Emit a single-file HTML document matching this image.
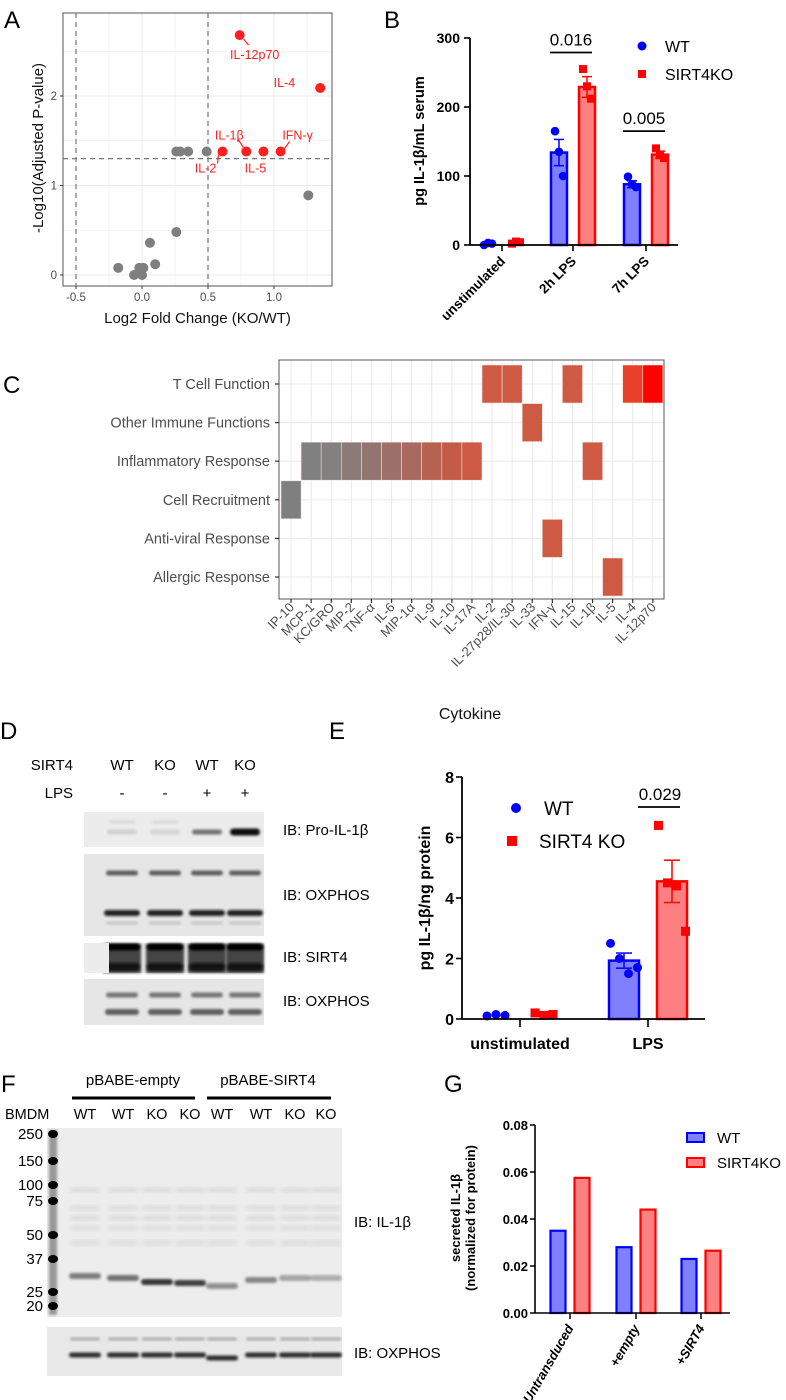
<!DOCTYPE html>
<html><head><meta charset="utf-8"><style>
html,body{margin:0;padding:0;background:#fff}
svg{display:block}
text{font-family:"Liberation Sans",sans-serif}
.nar{font-family:"Liberation Sans Narrow","Liberation Sans",sans-serif}
</style></head><body>
<svg id="fig" width="786" height="1400" viewBox="0 0 786 1400" xmlns="http://www.w3.org/2000/svg">
<defs>
<filter id="blur1" x="-20%" y="-50%" width="140%" height="200%"><feGaussianBlur stdDeviation="1.3"/></filter>
<filter id="blur2" x="-20%" y="-50%" width="140%" height="200%"><feGaussianBlur stdDeviation="2.5"/></filter>
</defs>
<g id="pA"></g>
<g id="pB"></g>
<g id="pC"></g>
<g id="pD"></g>
<g id="pE"></g>
<g id="pF"></g>
<g id="pG"></g>
</svg>
<script>
// ---------- Panel A data ----------
const aGreyX = [0.26,0.29,0.35,0.49,1.26,0.26,0.06,0.10,-0.18,-0.02,0.01,-0.06,0.0];
const aGreyY = [1.38,1.38,1.38,1.38,0.89,0.48,0.36,0.12,0.08,0.08,0.08,0.0,0.0];
const aRedNames = ["IL-12p70","IL-4","IL-2","IL-1β","IL-5","IFN-γ"];
const aRedX = [0.74,1.35,0.61,0.79,0.92,1.05];
const aRedY = [2.68,2.09,1.38,1.38,1.38,1.38];
const aXTicks = [-0.5,0.0,0.5,1.0];
const aXTickLabels = ["-0.5","0.0","0.5","1.0"];
const aYTicks = [0,1,2];
// ---------- Panel B data ----------
const bGroups = ["unstimulated","2h LPS","7h LPS"];
const bWT = [2,134,88];
const bKO = [4,229,131];
const bWTerr = [1,19,5];
const bKOerr = [1,15,5];
const bWTpts = [[0,3,2],[165,135,100],[99,88,84]];
const bKOpts = [[2,5,4],[255,230,212],[140,130,126]];
const bPvals = ["","0.016","0.005"];
const bPvalLevel = [0,279,165];
const bYTicks = [0,100,200,300];
// ---------- Panel C data ----------
const cCytokines = ["IP-10","MCP-1","KC/GRO","MIP-2","TNF-α","IL-6","MIP-1α","IL-9","IL-10","IL-17A","IL-2","IL-27p28/IL-30","IL-33","IFN-γ","IL-15","IL-1β","IL-5","IL-4","IL-12p70"];
const cCategories = ["T Cell Function","Other Immune Functions","Inflammatory Response","Cell Recruitment","Anti-viral Response","Allergic Response"];
const cCatIndex = [3,2,2,2,2,2,2,2,2,2,0,0,1,4,0,2,5,0,0];
const cColors = ["#7f7f7f","#808080","#838080","#8a7b78","#937570","#9c6f68","#a96860","#b66252","#c45b48","#cc5a45","#cf5a44","#cf5a44","#cf5a44","#cf5a44","#cf5a44","#cf5a44","#cf5a44","#e8402a","#ff0000"];
// ---------- Panel E data ----------
const eGroups = ["unstimulated","LPS"];
const eWT = [0.12,1.93];
const eKO = [0.15,4.55];
const eWTerr = [0.02,0.25];
const eKOerr = [0.03,0.7];
const eWTpts = [[0.1,0.15,0.12],[2.5,2.0,1.5,1.7]];
const eKOpts = [[0.2,0.12,0.15],[6.4,4.5,4.4,2.9]];
const eYTicks = [0,2,4,6,8];
// ---------- Panel G data ----------
const gGroups = ["Untransduced","+empty","+SIRT4"];
const gWT = [0.035,0.028,0.023];
const gKO = [0.0575,0.044,0.0265];
const gYTicks = [0,0.02,0.04,0.06,0.08];
const gYTickLabels = ["0.00","0.02","0.04","0.06","0.08"];

const NS="http://www.w3.org/2000/svg";
function el(parent,tag,attrs,txt){const e=document.createElementNS(NS,tag);for(const k in attrs)e.setAttribute(k,attrs[k]);if(txt!==undefined)e.textContent=txt;parent.appendChild(e);return e;}

// ================= Panel A =================
(function(){
const g=document.getElementById('pA');
const xA=v=>142+132*v, yA=v=>275-89.5*v;
const L=63,R=332,T=13,B=286;
const lbl=el(g,'text',{x:4,y:28,'font-size':24},'A');

for(let v=-0.75;v<=1.3;v+=0.25){const x=xA(v);if(x<L||x>R)continue;const major=Math.abs(v*2-Math.round(v*2))<1e-6;
 const l=el(g,'line',{x1:x,x2:x,y1:T,y2:B,stroke:'#ebebeb','stroke-width':major?1.1:0.6});
 }
for(let v=0;v<=3;v+=0.5){const y=yA(v);if(y<T)continue;const major=Number.isInteger(v);
 const l=el(g,'line',{x1:L,x2:R,y1:y,y2:y,stroke:'#ebebeb','stroke-width':major?1.1:0.6});
 }
const fr=el(g,'rect',{x:L,y:T,width:R-L,height:B-T,fill:'none',stroke:'#555','stroke-width':1});

[xA(-0.5),xA(0.5)].forEach(x=>{const l=el(g,'line',{x1:x,x2:x,y1:T,y2:B,stroke:'#777','stroke-width':1.2,'stroke-dasharray':'5,4'});
 });
const hl=el(g,'line',{x1:L,x2:R,y1:yA(1.3),y2:yA(1.3),stroke:'#777','stroke-width':1.2,'stroke-dasharray':'5,4'});

aXTicks.forEach((v,i)=>{const x=xA(v);el(g,'line',{x1:x,x2:x,y1:B,y2:B+3,stroke:'#333'});
 const t=el(g,'text',{x:x,y:B+15,'font-size':11.5,fill:'#4d4d4d','text-anchor':'middle'},aXTickLabels[i]);
 });
aYTicks.forEach(v=>{const y=yA(v);el(g,'line',{x1:L-3,x2:L,y1:y,y2:y,stroke:'#333'});
 const t=el(g,'text',{x:L-6,y:y+4,'font-size':11.5,fill:'#4d4d4d','text-anchor':'end'},String(v));
 });
const xt=el(g,'text',{x:(L+R)/2,y:323,'font-size':15,'text-anchor':'middle',fill:'#111'},'Log2 Fold Change (KO/WT)');

const yt=el(g,'text',{x:0,y:0,'font-size':15,'text-anchor':'middle',fill:'#111',transform:'translate(43,148) rotate(-90)'},'-Log10(Adjusted P-value)');

aGreyX.forEach((v,i)=>{const c=el(g,'circle',{cx:xA(v),cy:yA(aGreyY[i]),r:5,fill:'#7f7f7f'});
 });
aRedX.forEach((v,i)=>{const c=el(g,'circle',{cx:xA(v),cy:yA(aRedY[i]),r:5,fill:'#ff2020'});
 });
const offs=[[15,20],[-25,-5],[-17,17],[-17,-16],[-8,17],[17,-16]];
aRedX.forEach((v,i)=>{const px=xA(v),py=yA(aRedY[i]);const o=offs[i];
 const anchor=i===1?'end':'middle';
 const t=el(g,'text',{x:px+o[0],y:py+o[1]+4,'font-size':12.5,fill:'#ff2020','text-anchor':anchor},aRedNames[i]);
 
 if(i!==1&&i!==4){const sx=i===0?px+4:(i===2?px-4:(i===3?px-8:px+4));
  const ex=i===0?px+9:(i===2?px-5:(i===3?px-3:px+9));
  const sy=i===0?py+4:(i===2?py+3:(i===3?py-12:py-3));
  const ey=i===0?py+10:(i===2?py+12:(i===3?py-4:py-10));
  el(g,'line',{x1:sx,y1:sy,x2:ex,y2:ey,stroke:'#ff2020','stroke-width':1.2});}
});
})();

// ================= Panel B =================
(function(){
const g=document.getElementById('pB');
const yB=v=>245-0.69*v;
const groupX=[502,573,646];
const l=el(g,'text',{x:384,y:28,'font-size':24},'B');
bGroups.forEach((name,i)=>{
 [[bWT,bWTerr,bWTpts,-14,'#0000ff','#8080ff','wt'],[bKO,bKOerr,bKOpts,14,'#ff0000','#ff8080','ko']].forEach(([vals,errs,pts,dx,st,fi,tag])=>{
  const cx=groupX[i]+dx,w=16;
  if(vals[i]>5){const r=el(g,'rect',{x:cx-w/2,y:yB(vals[i]),width:w,height:yB(0)-yB(vals[i]),fill:fi,stroke:st,'stroke-width':2.5});
   
   el(g,'line',{x1:cx,x2:cx,y1:yB(vals[i]-errs[i]),y2:yB(vals[i]+errs[i]),stroke:st,'stroke-width':1.5});
   el(g,'line',{x1:cx-5,x2:cx+5,y1:yB(vals[i]+errs[i]),y2:yB(vals[i]+errs[i]),stroke:st,'stroke-width':1.5});
   el(g,'line',{x1:cx-5,x2:cx+5,y1:yB(vals[i]-errs[i]),y2:yB(vals[i]-errs[i]),stroke:st,'stroke-width':1.5});}
  pts[i].forEach((p,j)=>{const px=cx+(j-1)*4;let m;
   if(tag==='wt')m=el(g,'circle',{cx:px,cy:yB(p),r:4.3,fill:st});
   else m=el(g,'rect',{x:px-4,y:yB(p)-4,width:8,height:8,fill:st});
   });
 });
 el(g,'line',{x1:groupX[i],x2:groupX[i],y1:245,y2:251,stroke:'#000','stroke-width':1.6});
 const t=el(g,'text',{x:0,y:0,'font-size':13.5,'font-weight':'bold','text-anchor':'end',transform:`translate(${groupX[i]+4},${262}) rotate(-45)`},name);
 
 if(bPvals[i]){const x1=groupX[i]-23,x2=groupX[i]+19,yy=yB(bPvalLevel[i]);
  el(g,'line',{x1:x1,x2:x2,y1:yy,y2:yy,stroke:'#000','stroke-width':1.8});
  const pt=el(g,'text',{x:(x1+x2)/2,y:yy-7,'font-size':17,'text-anchor':'middle'},bPvals[i]);
  }
});
el(g,'line',{x1:470,x2:678,y1:245,y2:245,stroke:'#000','stroke-width':1.8});
el(g,'line',{x1:470,x2:470,y1:38,y2:245,stroke:'#000','stroke-width':1.8});
bYTicks.forEach(v=>{const y=yB(v);el(g,'line',{x1:464,x2:470,y1:y,y2:y,stroke:'#000','stroke-width':1.6});
 const t=el(g,'text',{x:460,y:y+5,'font-size':14,'font-weight':'bold','text-anchor':'end'},String(v));
 });
const yt=el(g,'text',{x:0,y:0,'font-size':14.5,'font-weight':'bold','text-anchor':'middle',transform:'translate(424,141) rotate(-90)'},'pg IL-1β/mL serum');

const lc=el(g,'circle',{cx:642,cy:46,r:4.5,fill:'#0000ff'});
const lt=el(g,'text',{x:665,y:52,'font-size':16},'WT');
const ls=el(g,'rect',{x:638,y:70,width:8,height:8,fill:'#ff0000'});
const lk=el(g,'text',{x:665,y:80,'font-size':16},'SIRT4KO');
})();

// ================= Panel C =================
(function(){
const g=document.getElementById('pC');
const x0=281,cw=20.1,rowY=i=>384+38.6*i;
const L=279,R=664,T=360,B=599;
const l=el(g,'text',{x:3,y:393,'font-size':24},'C');
cCytokines.forEach((c,i)=>{const x=x0+cw*(i+0.5);el(g,'line',{x1:x,x2:x,y1:T,y2:B,stroke:'#ebebeb','stroke-width':1.1});});
cCategories.forEach((c,i)=>{const y=rowY(i);el(g,'line',{x1:L,x2:R,y1:y,y2:y,stroke:'#ebebeb','stroke-width':1.1});});
cCytokines.forEach((c,i)=>{const y=rowY(cCatIndex[i]);
 const r=el(g,'rect',{x:x0+cw*i,y:y-19,width:cw,height:38,fill:cColors[i],stroke:'#f4dcd6','stroke-width':0.6});
 });
el(g,'rect',{x:L,y:T,width:R-L,height:B-T,fill:'none',stroke:'#555','stroke-width':1});
cCategories.forEach((c,i)=>{const y=rowY(i);el(g,'line',{x1:L-4,x2:L,y1:y,y2:y,stroke:'#333','stroke-width':1.2});
 const t=el(g,'text',{x:L-9,y:y+5,'font-size':14.5,fill:'#4d4d4d','text-anchor':'end'},c);
 });
cCytokines.forEach((c,i)=>{const x=x0+cw*(i+0.5);el(g,'line',{x1:x,x2:x,y1:B,y2:B+4,stroke:'#333','stroke-width':1.2});
 const t=el(g,'text',{x:0,y:0,'font-size':13,fill:'#4d4d4d','text-anchor':'end',transform:`translate(${x+4},${B+9}) rotate(-45)`},c);
 });
const xt=el(g,'text',{x:470,y:719,'font-size':16,'text-anchor':'middle',fill:'#111'},'Cytokine');

})();

function blot(g,x,y,w,h,bg,name){const r=el(g,'rect',{x:x,y:y,width:w,height:h,fill:bg});return r;}
function band(g,cx,cy,w,h,col,op,f){el(g,'rect',{x:cx-w/2,y:cy-h/2,width:w,height:h,rx:h/2,fill:col,opacity:op,filter:'url(#'+(f||'blur1')+')'});}

// ================= Panel D =================
(function(){
const g=document.getElementById('pD');
const l=el(g,'text',{x:0,y:739,'font-size':24},'D');
const lanes=[122,165,207,245];
const hdr=[["SIRT4",765,["WT","KO","WT","KO"]],["LPS",793,["-","-","+","+"]]];
hdr.forEach(([n,y,vals])=>{const t=el(g,'text',{x:73,y:y+5,'font-size':15,'text-anchor':'end',class:'nar'},n);
 
 vals.forEach((v,i)=>{const tt=el(g,'text',{x:lanes[i],y:y+5,'font-size':15,'text-anchor':'middle',class:'nar'},v);});});
blot(g,84,812,180,35,'#ececec','blot-pro-il1b');
[0.12,0.1,0.55,1].forEach((a,i)=>band(g,lanes[i],832,30,a>0.9?7:5,'#111',a));
band(g,lanes[0],822,26,3,'#888',0.2);band(g,lanes[1],822,26,3,'#888',0.2);
blot(g,84,854,180,82,'#e6e6e6','blot-oxphos-1');
lanes.forEach(x=>{band(g,x,873,32,5,'#333',0.75);band(g,x,913,36,6,'#111',0.9);band(g,x,923,32,3,'#777',0.3);});
blot(g,84,943,180,30,'#e4e4e4','blot-sirt4');
lanes.forEach(x=>{el(g,'rect',{x:x-19,y:944,width:38,height:29,fill:'#2a2a2a',opacity:0.85,filter:'url(#blur1)'});band(g,x,947,36,7,'#000',1);band(g,x,967,36,8,'#111',0.9);});
el(g,'rect',{x:84,y:943,width:25,height:30,fill:'#ececec'});
blot(g,84,979,180,46,'#e6e6e6','blot-oxphos-2');
lanes.forEach(x=>{band(g,x,995,32,5,'#444',0.7);band(g,x,1012,34,6,'#333',0.75);});
[["IB: Pro-IL-1β",830],["IB: OXPHOS",895],["IB: SIRT4",957],["IB: OXPHOS",1001]].forEach(([t,y])=>{
 const e=el(g,'text',{x:283,y:y+5,'font-size':15,class:'nar'},t);});
})();

// ================= Panel E =================
(function(){
const g=document.getElementById('pE');
const yE=v=>1019-30.25*v;
const groupX=[520,648];
const l=el(g,'text',{x:329,y:739,'font-size':24},'E');
eGroups.forEach((name,i)=>{
 [[eWT,eWTerr,eWTpts,-24,'#0000ff','#8080ff','wt'],[eKO,eKOerr,eKOpts,24,'#ff0000','#ff8080','ko']].forEach(([vals,errs,pts,dx,st,fi,tag])=>{
  const cx=groupX[i]+dx,w=30;
  if(vals[i]>0.5){const r=el(g,'rect',{x:cx-w/2,y:yE(vals[i]),width:w,height:yE(0)-yE(vals[i]),fill:fi,stroke:st,'stroke-width':2.5});
   
   el(g,'line',{x1:cx,x2:cx,y1:yE(vals[i]-errs[i]),y2:yE(vals[i]+errs[i]),stroke:st,'stroke-width':1.5});
   el(g,'line',{x1:cx-8,x2:cx+8,y1:yE(vals[i]+errs[i]),y2:yE(vals[i]+errs[i]),stroke:st,'stroke-width':1.5});
   el(g,'line',{x1:cx-8,x2:cx+8,y1:yE(vals[i]-errs[i]),y2:yE(vals[i]-errs[i]),stroke:st,'stroke-width':1.5});}
  const n=pts[i].length;
  pts[i].forEach((p,j)=>{const px=cx+(j-(n-1)/2)*9;let m;
   if(tag==='wt')m=el(g,'circle',{cx:px,cy:yE(p),r:4.5,fill:st});
   else m=el(g,'rect',{x:px-4.5,y:yE(p)-4.5,width:9,height:9,fill:st});
   });
 });
 el(g,'line',{x1:groupX[i],x2:groupX[i],y1:1019,y2:1027,stroke:'#000','stroke-width':1.6});
 const t=el(g,'text',{x:groupX[i],y:1049,'font-size':16,'font-weight':'bold','text-anchor':'middle'},name);
 
});
el(g,'line',{x1:462,x2:705,y1:1019,y2:1019,stroke:'#000','stroke-width':1.8});
el(g,'line',{x1:462,x2:462,y1:777,y2:1019,stroke:'#000','stroke-width':1.8});
eYTicks.forEach(v=>{const y=yE(v);el(g,'line',{x1:456,x2:462,y1:y,y2:y,stroke:'#000','stroke-width':1.6});
 const t=el(g,'text',{x:454,y:y+6,'font-size':16,'font-weight':'bold','text-anchor':'end'},String(v));
 });
const yt=el(g,'text',{x:0,y:0,'font-size':16,'font-weight':'bold','text-anchor':'middle',transform:'translate(430,898) rotate(-90)'},'pg IL-1β/ng protein');

el(g,'line',{x1:638,x2:680,y1:807,y2:807,stroke:'#000','stroke-width':1.8});
const pt=el(g,'text',{x:660,y:800,'font-size':17,'text-anchor':'middle',class:'nar'},'0.029');
const lc=el(g,'circle',{cx:516,cy:808,r:5,fill:'#0000ff'});
const lt=el(g,'text',{x:544,y:815,'font-size':19,class:'nar'},'WT');
const ls=el(g,'rect',{x:507,y:836,width:10,height:10,fill:'#ff0000'});
const lk=el(g,'text',{x:539,y:848,'font-size':19,class:'nar'},'SIRT4 KO');
})();

// ================= Panel F =================
(function(){
const g=document.getElementById('pF');
const l=el(g,'text',{x:1,y:1092,'font-size':24},'F');
[["pBABE-empty",133,72,195],["pBABE-SIRT4",268,207,331]].forEach(([t,cx,a,b])=>{
 const e=el(g,'text',{x:cx,y:1085,'font-size':15,'text-anchor':'middle',class:'nar'},t);
 el(g,'line',{x1:a,x2:b,y1:1098,y2:1098,stroke:'#000','stroke-width':3});});
const lanes=[85,123,157,190,222,261,295,326];
const lbls=["WT","WT","KO","KO","WT","WT","KO","KO"];
const b=el(g,'text',{x:5,y:1119,'font-size':14.5,class:'nar'},'BMDM');
lanes.forEach((x,i)=>{const e=el(g,'text',{x:x,y:1119,'font-size':14.5,'text-anchor':'middle',class:'nar'},lbls[i]);});
blot(g,47,1128,295,189,'#ededed','blot-il1b');
lanes.forEach(x=>{[1190,1208,1218,1228,1243].forEach(y=>band(g,x,y,30,4,'#999',0.25,'blur2'));});
const bandOp=[0.55,0.6,0.9,0.85,0.45,0.5,0.35,0.3];
const bandY=[1276,1278,1282,1283,1286,1280,1278,1278];
lanes.forEach((x,i)=>band(g,x,bandY[i],32,6,'#222',bandOp[i]));
el(g,'rect',{x:49,y:1130,width:8,height:185,fill:'#444',opacity:0.5,filter:'url(#blur1)'});
const mw=[["250",1134],["150",1161],["100",1185],["75",1201],["50",1235],["37",1259],["25",1292],["20",1306]];
mw.forEach(([t,y])=>{el(g,'ellipse',{cx:53,cy:y,rx:5,ry:4,fill:'#000'});
 const e=el(g,'text',{x:43,y:y+5,'font-size':15,'text-anchor':'end',class:'nar'},t);});
blot(g,47,1327,295,49,'#e8e8e8','blot-oxphos');
lanes.forEach((x,i)=>{band(g,x,1339,30,3,'#555',0.4);band(g,x,1355+(i===4?3:0),32,5,'#111',0.85);});
[["IB: IL-1β",1222],["IB: OXPHOS",1353]].forEach(([t,y])=>{const e=el(g,'text',{x:354,y:y+5,'font-size':15,class:'nar'},t);});
})();

// ================= Panel G =================
(function(){
const g=document.getElementById('pG');
const yG=v=>1313-2350*v;
const groupX=[570,636,701];
const l=el(g,'text',{x:444,y:1092,'font-size':24},'G');
gGroups.forEach((name,i)=>{
 [[gWT,-12,'#0000ff','#8080ff','wt'],[gKO,12,'#ff0000','#ff8080','ko']].forEach(([vals,dx,st,fi,tag])=>{
  const cx=groupX[i]+dx,w=15;
  const r=el(g,'rect',{x:cx-w/2,y:yG(vals[i]),width:w,height:yG(0)-yG(vals[i]),fill:fi,stroke:st,'stroke-width':2.2});
  });
 el(g,'line',{x1:groupX[i],x2:groupX[i],y1:1313,y2:1319,stroke:'#000','stroke-width':1.5});
 const t=el(g,'text',{x:0,y:0,'font-size':13,'font-weight':'bold','font-style':'italic','text-anchor':'end',transform:`translate(${groupX[i]+4},${1328}) rotate(-60)`},name);
 
});
el(g,'line',{x1:535,x2:730,y1:1313,y2:1313,stroke:'#000','stroke-width':1.6});
el(g,'line',{x1:535,x2:535,y1:1125,y2:1313,stroke:'#000','stroke-width':1.6});
gYTicks.forEach((v,i)=>{const y=yG(v);el(g,'line',{x1:530,x2:535,y1:y,y2:y,stroke:'#000','stroke-width':1.5});
 const t=el(g,'text',{x:528,y:y+5,'font-size':13,'font-weight':'bold','text-anchor':'end',class:'nar'},gYTickLabels[i]);
 });
const yt=el(g,'text',{x:0,y:0,'font-size':13,'font-weight':'bold','text-anchor':'middle',transform:'translate(460,1218) rotate(-90)'});

el(yt,'tspan',{x:0,dy:0},'secreted IL-1β');el(yt,'tspan',{x:0,dy:15},'(normalized for protein)');
const lw=el(g,'rect',{x:687,y:1133,width:17,height:9,fill:'#8080ff',stroke:'#0000ff','stroke-width':2});
const lt=el(g,'text',{x:717,y:1143,'font-size':15,class:'nar'},'WT');
const lr=el(g,'rect',{x:687,y:1158,width:17,height:9,fill:'#ff8080',stroke:'#ff0000','stroke-width':2});
const lk=el(g,'text',{x:717,y:1168,'font-size':15,class:'nar'},'SIRT4KO');
})();
</script>
</body></html>
